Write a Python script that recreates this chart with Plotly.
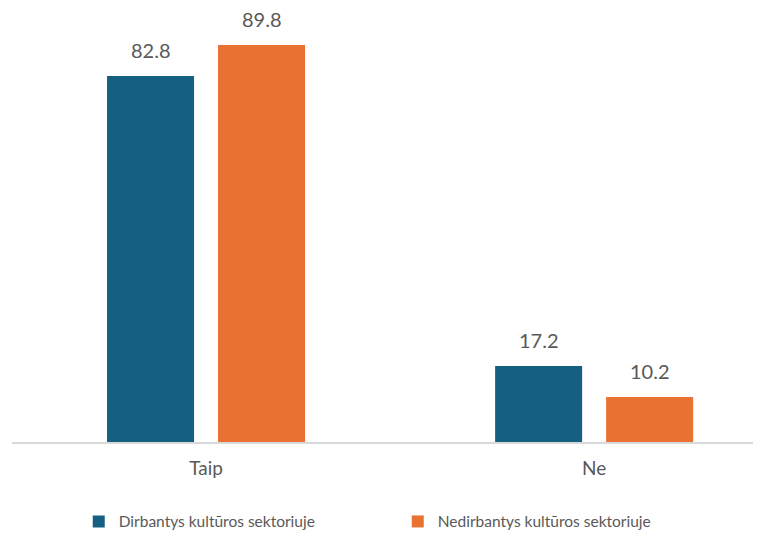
import plotly.graph_objects as go

categories = ["Taip", "Ne"]
series_names = ["Dirbantys kultūros sektoriuje", "Nedirbantys kultūros sektoriuje"]
dirbantys = [82.8, 17.2]
nedirbantys = [89.8, 10.2]

colors = ["#156082", "#E97132"]
text_color = "#595959"
font_family = "Lato, 'Open Sans', sans-serif"

fig = go.Figure()
all_series = [dirbantys, nedirbantys]
for name, vals, col in zip(series_names, all_series, colors):
    fig.add_trace(go.Bar(
        x=categories, y=vals, name=name,
        marker=dict(color=col, line=dict(width=0)),
        cliponaxis=False,
    ))

# value labels above each bar (offset to the bar's slot inside the group)
shifts = [-55.5, 55.5]
for vals, dx in zip(all_series, shifts):
    for cat, v in zip(categories, vals):
        fig.add_annotation(
            x=cat, y=v, text="%.1f" % v, showarrow=False,
            xshift=dx, yshift=12, yanchor="bottom",
            font=dict(size=20, color=text_color, family=font_family),
        )

# page body has an 8px margin, so the figure is sized to fit the window
fig.update_layout(
    width=753, height=525,
    margin=dict(l=4, r=0, t=0, b=91, autoexpand=False),
    paper_bgcolor="white", plot_bgcolor="white",
    barmode="group", bargap=0.428, bargroupgap=0.216,
    font=dict(family=font_family, color=text_color, size=16),
    showlegend=True,
    legend=dict(orientation="h", x=0.515, xanchor="center", y=-0.184, yanchor="middle",
                font=dict(size=15.5, color=text_color), itemwidth=30,
                entrywidth=274, entrywidthmode="pixels",
                traceorder="normal"),
    xaxis=dict(range=[-0.5, 1.43], showgrid=False, showline=True, linecolor="#D9D9D9",
               linewidth=2, ticks="", ticklabelstandoff=8,
               tickfont=dict(size=19, color=text_color)),
    yaxis=dict(range=[0, 98.2], visible=False),
)

fig.write_html("out.html")
